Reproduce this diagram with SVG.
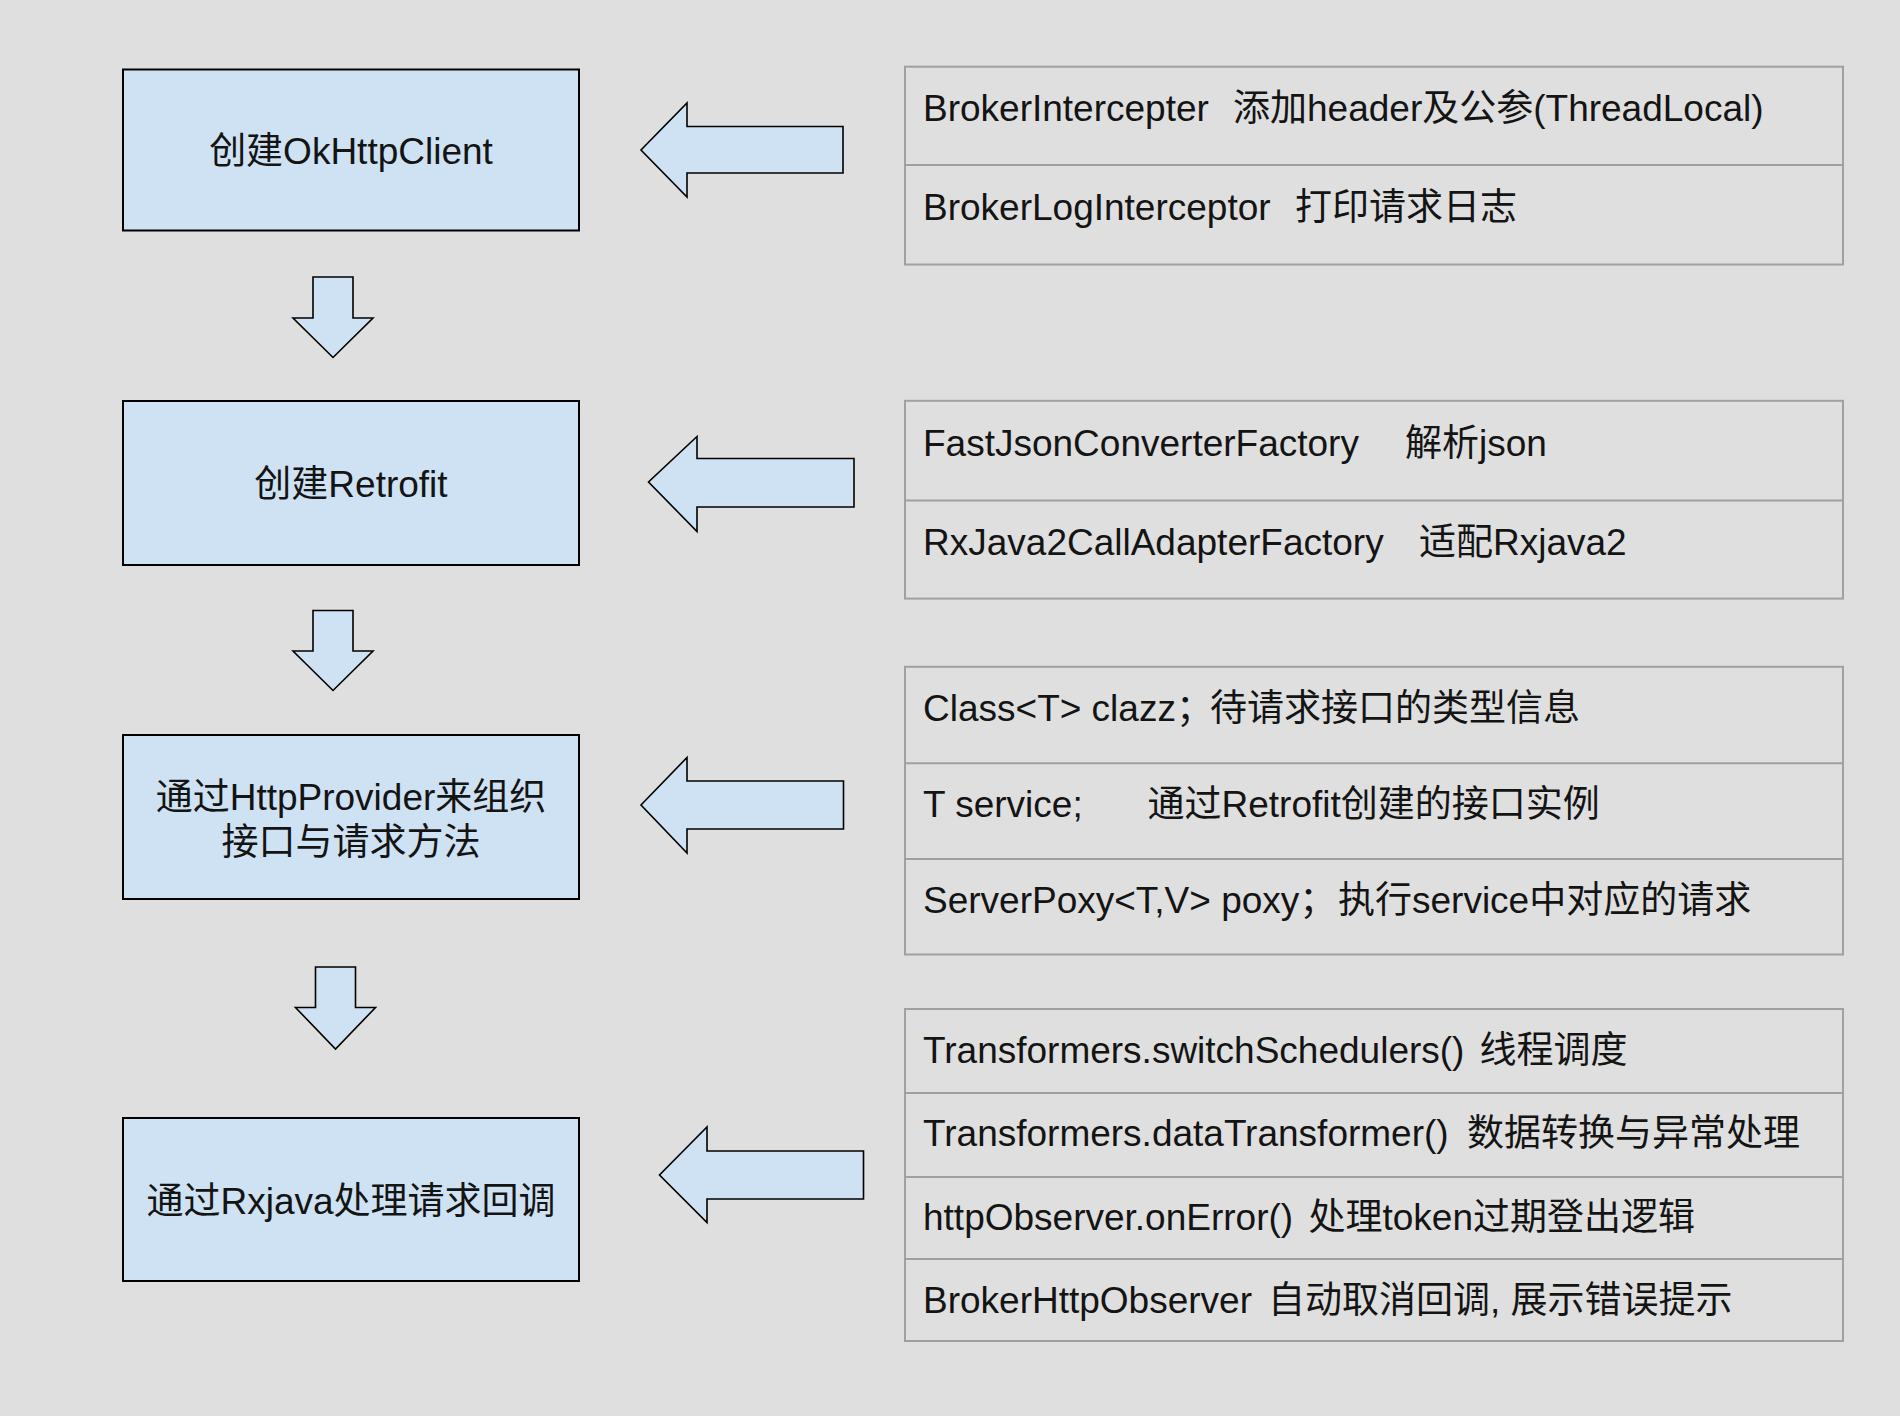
<svg xmlns="http://www.w3.org/2000/svg" width="1900" height="1416" viewBox="0 0 1900 1416">
<style>
  .bg { fill: #dfdfdf; }
  .box { fill: #cfe2f3; stroke: #000000; stroke-width: 2; }
  .arrow { fill: #cfe2f3; stroke: #000000; stroke-width: 1.6; stroke-linejoin: miter; }
  .tbl { fill: none; stroke: #a0a0a0; stroke-width: 2; }
  .t { font-family: "Liberation Sans", Arial, "Noto Sans CJK SC", sans-serif; font-size: 37px; fill: #141414; white-space: pre; }
  .c { font-family: "Liberation Sans", Arial, "Noto Sans CJK SC", sans-serif; font-size: 37px; fill: #141414; text-anchor: middle; }
</style>
<rect class="bg" x="0" y="0" width="1900" height="1416"/>

<g id="node-okhttp">
  <rect class="box" x="123" y="69.5" width="456" height="161"/>
  <text class="c" x="351" y="164">创建OkHttpClient</text>
</g>
<g id="node-retrofit">
  <rect class="box" x="123" y="401" width="456" height="164"/>
  <text class="c" x="351" y="497">创建Retrofit</text>
</g>
<g id="node-provider">
  <rect class="box" x="123" y="735" width="456" height="164"/>
  <text class="c" x="351" y="810">通过HttpProvider来组织</text>
  <text class="c" x="351" y="854.5">接口与请求方法</text>
</g>
<g id="node-rxjava">
  <rect class="box" x="123" y="1118" width="456" height="163"/>
  <text class="c" x="351" y="1214">通过Rxjava处理请求回调</text>
</g>

<g id="connectors">
  <polygon class="arrow" points="313,277 353,277 353,318 373,318 333,357.5 293,318 313,318"/>
  <polygon class="arrow" points="313,610.5 353,610.5 353,651 373,651 333,690.5 293,651 313,651"/>
  <polygon class="arrow" points="315.5,967 355.5,967 355.5,1007.5 375.5,1007.5 335.5,1049 295.5,1007.5 315.5,1007.5"/>
  <polygon class="arrow" points="843,126.5 687,126.5 687,103 641,150 687,197 687,173 843,173"/>
  <polygon class="arrow" points="854,458.5 697,458.5 697,436.5 648.5,482 697,531.5 697,507 854,507"/>
  <polygon class="arrow" points="843.5,781 687,781 687,757.5 641,805 687,853 687,829 843.5,829"/>
  <polygon class="arrow" points="863.5,1151 707,1151 707,1127 659.5,1175 707,1222.5 707,1199 863.5,1199"/>
</g>

<g id="table-interceptors">
  <rect class="tbl" x="905" y="66.7" width="938" height="197.8"/>
  <line class="tbl" x1="905" y1="165" x2="1843" y2="165"/>
  <text class="t" x="923" y="121">BrokerIntercepter<tspan x="1233">添加header及公参(ThreadLocal)</tspan></text>
  <text class="t" x="923" y="219.5">BrokerLogInterceptor<tspan x="1295">打印请求日志</tspan></text>
</g>

<g id="table-factories">
  <rect class="tbl" x="905" y="400.8" width="938" height="197.8"/>
  <line class="tbl" x1="905" y1="500.6" x2="1843" y2="500.6"/>
  <text class="t" x="923" y="455.5">FastJsonConverterFactory<tspan x="1405">解析json</tspan></text>
  <text class="t" x="923" y="555">RxJava2CallAdapterFactory<tspan x="1419">适配Rxjava2</tspan></text>
</g>

<g id="table-provider">
  <rect class="tbl" x="905" y="666.8" width="938" height="287.7"/>
  <line class="tbl" x1="905" y1="763.3" x2="1843" y2="763.3"/>
  <line class="tbl" x1="905" y1="859" x2="1843" y2="859"/>
  <text class="t" x="923" y="721">Class&lt;T&gt; clazz；<tspan x="1210">待请求接口的类型信息</tspan></text>
  <text class="t" x="923" y="817">T service;<tspan x="1147.5">通过Retrofit创建的接口实例</tspan></text>
  <text class="t" x="923" y="913">ServerPoxy&lt;T,V&gt; poxy；<tspan x="1338">执行service中对应的请求</tspan></text>
</g>

<g id="table-rxjava">
  <rect class="tbl" x="905" y="1009" width="938" height="332"/>
  <line class="tbl" x1="905" y1="1093" x2="1843" y2="1093"/>
  <line class="tbl" x1="905" y1="1177" x2="1843" y2="1177"/>
  <line class="tbl" x1="905" y1="1259" x2="1843" y2="1259"/>
  <text class="t" x="923" y="1062.5">Transformers.switchSchedulers()<tspan x="1479.5">线程调度</tspan></text>
  <text class="t" x="923" y="1146">Transformers.dataTransformer()<tspan x="1467">数据转换与异常处理</tspan></text>
  <text class="t" x="923" y="1230">httpObserver.onError()<tspan x="1308.5">处理token过期登出逻辑</tspan></text>
  <text class="t" x="923" y="1313">BrokerHttpObserver<tspan x="1268">自动取消回调, 展示错误提示</tspan></text>
</g>
</svg>
